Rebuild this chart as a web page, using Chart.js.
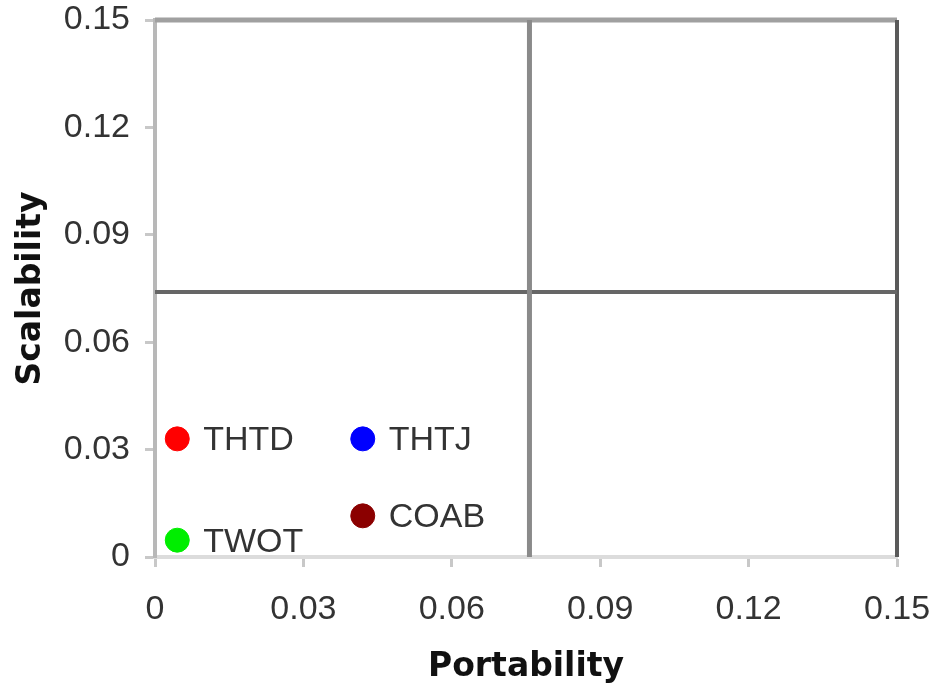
<!DOCTYPE html>
<html>
<head>
<meta charset="utf-8">
<script src="https://cdn.jsdelivr.net/npm/chart.js@4.4.1/dist/chart.umd.min.js"></script>
<style>
  html, body { margin: 0; padding: 0; background: #fff; }
  #wrap { width: 934px; height: 684px; }
</style>
</head>
<body>
<div id="wrap"><canvas id="graph_ID" width="934" height="684"></canvas></div>
<script>
    // data
    var names = ['THTD', 'THTJ', 'COAB', 'TWOT'];
    var portability = [0.0045, 0.042, 0.042, 0.0045];
    var scalability = [0.033, 0.033, 0.0115, 0.0047];
    var colours = ['#ff0000', '#0000ff', '#8b0000', '#00ee00'];

    var tickValues = [0, 0.03, 0.06, 0.09, 0.12, 0.15];
    var quadrantX = 0.0757;
    var quadrantY = 0.074;

    function getPoint(i)
    {
        return {
            label: names[i],
            data: [{ x: portability[i], y: scalability[i] }],
            backgroundColor: colours[i],
            borderColor: colours[i],
            pointRadius: 12,
            pointHoverRadius: 12,
            showLine: false
        };
    }

    function getLine(data, colour, width)
    {
        return {
            label: '',
            data: data,
            type: 'line',
            borderColor: colour,
            borderWidth: width,
            pointRadius: 0,
            fill: false,
            isQuadrant: true
        };
    }

    // write the name next to each point
    var pointLabels = {
        id: 'pointLabels',
        afterDatasetsDraw: function(chart)
        {
            var ctx = chart.ctx;
            ctx.save();
            ctx.font = '34px "Liberation Sans"';
            ctx.fillStyle = '#333';
            ctx.textBaseline = 'middle';
            chart.data.datasets.forEach(function(ds, i) {
                if (ds.isQuadrant) return;
                var el = chart.getDatasetMeta(i).data[0];
                ctx.fillText(ds.label, el.x + 26, el.y + 2);
            });
            ctx.restore();
        }
    };

    // top and right frame of the plot area
    var frame = {
        id: 'frame',
        beforeDatasetsDraw: function(chart)
        {
            var a = chart.chartArea;
            var ctx = chart.ctx;
            ctx.save();
            ctx.strokeStyle = '#a0a0a0';
            ctx.lineWidth = 5;
            ctx.beginPath();
            ctx.moveTo(a.left, a.top);
            ctx.lineTo(a.right, a.top);
            ctx.stroke();
            ctx.strokeStyle = '#5a5a5a';
            ctx.lineWidth = 4;
            ctx.beginPath();
            ctx.moveTo(a.right, a.top);
            ctx.lineTo(a.right, a.bottom);
            ctx.stroke();
            ctx.restore();
        }
    };

    var tickFont = { family: '"Liberation Sans"', size: 34 };
    var titleFont = { family: '"DejaVu Sans"', size: 33, weight: 'bold', lineHeight: 1 };

    var options = {
        responsive: false,
        animation: false,
        layout: { padding: { top: 20, right: 37, left: 0, bottom: 0 } },
        plugins: {
            legend: { display: false },
            tooltip: { enabled: false }
        },
        scales: {
            x: {
                type: 'linear',
                min: 0,
                max: 0.15,
                afterBuildTicks: function(scale) {
                    scale.ticks = tickValues.map(function(v) { return { value: v }; });
                },
                afterFit: function(scale) {
                    scale.height = 127;
                    scale.paddingLeft = 0;
                    scale.paddingRight = 0;
                },
                ticks: {
                    font: tickFont,
                    color: '#333',
                    padding: 22,
                    maxRotation: 0,
                    callback: function(v) { return String(+v.toFixed(2)); }
                },
                grid: { drawOnChartArea: false, tickLength: 10, tickColor: '#c8c8c8', tickWidth: 3 },
                border: { color: '#dcdcdc', width: 4 },
                title: { display: true, text: 'Portability', font: titleFont, color: '#111', padding: { top: 0, bottom: 0 } }
            },
            y: {
                type: 'linear',
                min: 0,
                max: 0.15,
                afterBuildTicks: function(scale) {
                    scale.ticks = tickValues.map(function(v) { return { value: v }; });
                },
                afterFit: function(scale) {
                    scale.width = 155;
                    scale.paddingTop = 0;
                    scale.paddingBottom = 0;
                },
                ticks: {
                    font: tickFont,
                    color: '#333',
                    padding: 15,
                    callback: function(v) { return String(+v.toFixed(2)); }
                },
                grid: { drawOnChartArea: false, tickLength: 10, tickColor: '#c8c8c8', tickWidth: 3 },
                border: { color: '#b8b8b8', width: 4 },
                title: { display: true, text: 'Scalability', font: titleFont, color: '#111', padding: { top: 15, bottom: 0 } }
            }
        }
    };

    var datasets = [
        getLine([{ x: quadrantX, y: 0 }, { x: quadrantX, y: 0.15 }], '#8a8a8a', 5),
        getLine([{ x: 0, y: quadrantY }, { x: 0.15, y: quadrantY }], '#666', 4)
    ];
    for (var i = 0; i < names.length; i++) {
        datasets.push(getPoint(i));
    }

    var graphique = new Chart(document.getElementById('graph_ID').getContext('2d'), {
        type: 'scatter',
        data: { datasets: datasets },
        options: options,
        plugins: [frame, pointLabels]
    });
</script>
</body>
</html>
